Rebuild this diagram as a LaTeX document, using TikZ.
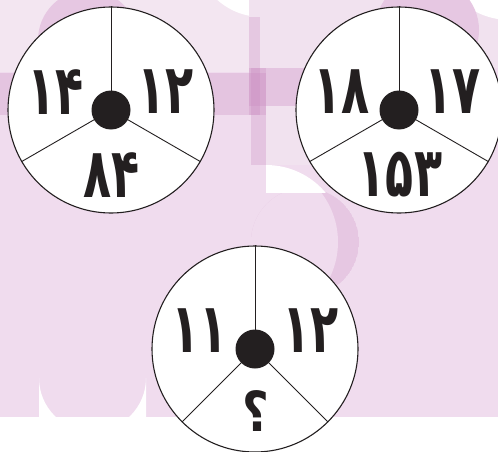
\documentclass[tikz,border=0pt]{standalone}
\usepackage{fontspec}
\usepackage{graphicx}
\newfontfamily\fadigits[Script=Arabic]{DejaVu Sans}
\definecolor{basepink}{RGB}{240,220,238}
\definecolor{lightpink}{RGB}{243,230,241}
\definecolor{midpink}{RGB}{241,226,239}
\definecolor{darkpink}{RGB}{230,199,226}
\definecolor{bandtint}{RGB}{200,135,190}
\definecolor{ink}{RGB}{35,31,32}
\newcommand{\fanum}[1]{\scalebox{1.0}[1.5]{#1}}
\newcommand{\faquest}[1]{\scalebox{1.0}[1.2]{#1}}
\begin{document}
\begin{tikzpicture}[x=1pt,y=-1pt,
  wheel/.style={circle,draw=ink,line width=1.1pt,fill=white,minimum size=206pt,inner sep=0pt},
  hub/.style={circle,fill=ink,minimum size=39pt,inner sep=0pt},
  spoke/.style={draw=ink,line width=0.9pt},
  num/.style={text=ink,font=\fadigits\bfseries\fontsize{46}{46}\selectfont,inner sep=0pt},
  band/.style={fill=bandtint,fill opacity=0.28,draw=none}]
\useasboundingbox (0,0) rectangle (498,452);
% background
\fill[white] (0,0) rectangle (498,452);
\fill[basepink] (0,0) rectangle (498,417);
\fill[lightpink] (0,0) rectangle (249,72);
\fill[white] (262,-50) circle[radius=67];
\fill[midpink] (249,0) rectangle (498,68);
\fill[white] (510,-55) circle[radius=75];
\fill[darkpink] (88,40) circle[radius=50];
\fill[darkpink] (427,30) circle[radius=52];
\fill[midpink] (266,106) rectangle (334,165);
\begin{scope}
  \clip (305,242) circle[radius=54];
  \fill[darkpink] (305,242) circle[radius=54];
  \fill[basepink] (257,242) circle[radius=81];
\end{scope}
\begin{scope}
  \clip (266,165) rectangle (340,192);
  \fill[white] (266,243) circle[radius=78];
\end{scope}
\fill[white] (39,417) -- (39,378) arc[start angle=180,end angle=0,radius=53.5] -- (146,417) -- cycle;
\path[band] (0,73) rectangle (266,115);
\path[band] (249,68) rectangle (330,106);
\path[band] (249,17) rectangle (260,115);
\path[band] (251,68) rectangle (266,165);
% wheels
\node[wheel] (c1) at (111,110) {};
\node[wheel] (c2) at (399,110) {};
\node[wheel] (c3) at (255,349) {};
\foreach \c/\a/\b in {c1/210/330,c2/210/330,c3/225/315}{
  \draw[spoke] (\c.center) -- (\c.90);
  \draw[spoke] (\c.center) -- (\c.\a);
  \draw[spoke] (\c.center) -- (\c.\b);
}
\node[hub] (h1) at (c1) {};
\node[hub] (h2) at (c2) {};
\node[hub] (h3) at (c3) {};
% numbers
\node[num] (l1) at (56,92) {\fanum{۱۴}};
\node[num] (r1) at (166,92) {\fanum{۱۲}};
\node[num] (b1) at (112,175) {\fanum{۸۴}};
\node[num] (l2) at (342,92) {\fanum{۱۸}};
\node[num] (r2) at (453,92) {\fanum{۱۷}};
\node[num] (b2) at (400,175) {\fanum{۱۵۳}};
\node[num] (l3) at (200,331) {\fanum{۱۱}};
\node[num] (r3) at (311,331) {\fanum{۱۲}};
\node[num] (b3) at (256,411) {\faquest{؟}};
\end{tikzpicture}
\end{document}
